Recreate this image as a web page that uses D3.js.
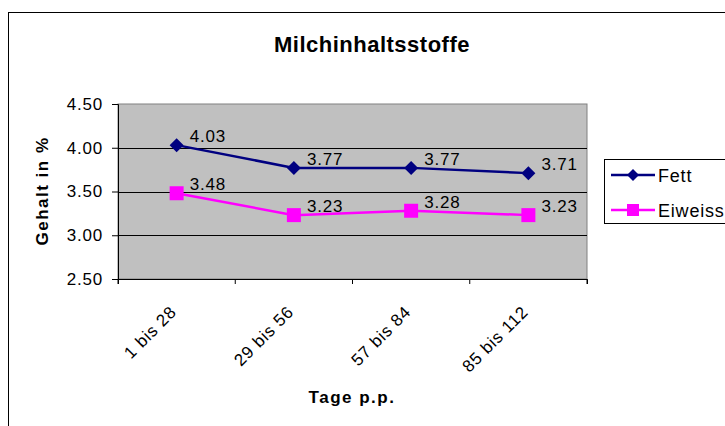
<!DOCTYPE html>
<html><head><meta charset="utf-8">
<script src="https://cdn.jsdelivr.net/npm/d3@7"></script>
<style>body{margin:0;background:#fff}svg{display:block;font-family:Arial,"Liberation Sans",sans-serif}</style>
</head><body><svg id="c" width="725" height="426"></svg>
<script>
const categories = ["1 bis 28","29 bis 56","57 bis 84","85 bis 112"];
const fett = [4.03,3.77,3.77,3.71];
const eiweiss = [3.48,3.23,3.28,3.23];
const yTicks = [2.5,3.0,3.5,4.0,4.5];
const seriesNames = ["Fett","Eiweiss"];

const FS = 17, LS = 0.8;
const svg = d3.select("#c");
svg.append("rect").attr("x",8.5).attr("y",12.5).attr("width",800).attr("height",500)
  .attr("fill","#fff").attr("stroke","#000").attr("stroke-width",1);

const L=118,R=587,T=104,B=279;
const x = d3.scaleBand().domain(categories).range([L,R]);
const y = d3.scaleLinear().domain([2.5,4.5]).range([B,T]);

svg.append("rect").attr("x",L).attr("y",T).attr("width",R-L).attr("height",B-T)
  .attr("fill","#C0C0C0").attr("stroke","#808080");
svg.append("g").selectAll("line").data(yTicks.slice(1,-1)).join("line")
  .attr("x1",L).attr("x2",R).attr("y1",d=>Math.round(y(d))+0.5).attr("y2",d=>Math.round(y(d))+0.5)
  .attr("stroke","#000");

const yAxis = svg.append("g").attr("transform",`translate(${L},0)`)
  .call(d3.axisLeft(y).tickValues(yTicks).tickFormat(d3.format(".2f")).tickSize(6).tickPadding(9));
yAxis.select(".domain").attr("stroke","#000");
yAxis.selectAll("text").attr("font-size",FS).attr("letter-spacing",LS).attr("fill","#000").attr("font-family","Arial, Liberation Sans");

const xAxis = svg.append("g").attr("transform",`translate(0,${B})`)
  .call(d3.axisBottom(x).tickSize(5).tickFormat(""));
xAxis.selectAll(".tick").remove();
xAxis.select(".domain").attr("stroke","#000");
const bounds = categories.map(c=>x(c)).concat([R]);
xAxis.selectAll("line.tk").data(bounds).join("line").attr("class","tk")
  .attr("x1",d=>d).attr("x2",d=>d).attr("y1",0).attr("y2",5).attr("stroke","#000");
const cx = d=>x(d)+x.bandwidth()/2;
svg.append("g").selectAll("text").data(categories).join("text")
  .attr("transform",d=>`translate(${cx(d)+1},${B+34}) rotate(-45)`)
  .attr("text-anchor","end").attr("font-size",FS).attr("letter-spacing",LS).attr("fill","#000").text(d=>d);

const line = d3.line().x((d,i)=>cx(categories[i])).y(d=>y(d));
svg.append("path").datum(fett).attr("d",line).attr("fill","none").attr("stroke","#000080").attr("stroke-width",2.5);
svg.append("path").datum(eiweiss).attr("d",line).attr("fill","none").attr("stroke","#FF00FF").attr("stroke-width",2.5);

const diamond = (g,px,py,s)=>g.append("path").attr("d",`M${px},${py-s}L${px+s},${py}L${px},${py+s}L${px-s},${py}Z`).attr("fill","#000080");
fett.forEach((v,i)=>diamond(svg,cx(categories[i]),y(v),7));
eiweiss.forEach((v,i)=>svg.append("rect").attr("x",cx(categories[i])-7).attr("y",y(v)-7).attr("width",14).attr("height",14).attr("fill","#FF00FF"));

[fett,eiweiss].forEach(s=>{
  svg.append("g").selectAll("text").data(s).join("text")
    .attr("x",(d,i)=>cx(categories[i])+13).attr("y",d=>y(d)-3)
    .attr("font-size",FS).attr("letter-spacing",LS).attr("fill","#000").text(d=>d.toFixed(2));
});

svg.append("text").attr("x",372).attr("y",52).attr("text-anchor","middle")
  .attr("font-size",22).attr("letter-spacing",0.5).attr("font-weight","bold").text("Milchinhaltsstoffe");
svg.append("text").attr("transform",`translate(48,191) rotate(-90)`).attr("text-anchor","middle")
  .attr("font-size",17).attr("letter-spacing",1.5).attr("font-weight","bold").text("Gehalt in %");
svg.append("text").attr("x",352).attr("y",403).attr("text-anchor","middle")
  .attr("font-size",17).attr("letter-spacing",1.5).attr("font-weight","bold").text("Tage p.p.");

// legend
const lg = svg.append("g");
lg.append("rect").attr("x",604.5).attr("y",159.5).attr("width",200).attr("height",64).attr("fill","#fff").attr("stroke","#000");
const colors=["#000080","#FF00FF"];
seriesNames.forEach((n,i)=>{
  const ly = 175+i*35;
  lg.append("line").attr("x1",611).attr("x2",655).attr("y1",ly).attr("y2",ly).attr("stroke",colors[i]).attr("stroke-width",2.5);
  if(i===0) diamond(lg,633,ly,6);
  else lg.append("rect").attr("x",627).attr("y",ly-6).attr("width",12).attr("height",12).attr("fill",colors[i]);
  lg.append("text").attr("x",658).attr("y",ly+6.5).attr("font-size",18).attr("letter-spacing",LS).text(n);
});
</script></body></html>
